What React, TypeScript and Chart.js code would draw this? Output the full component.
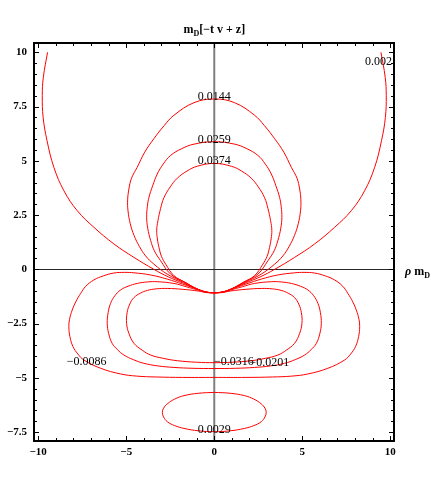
import React, { useEffect, useRef } from 'react';
import { Chart, registerables } from 'chart.js';

Chart.register(...registerables);

type P = [number, number];

// Axis ticks
const xTicks = [-10, -5, 0, 5, 10];
const yTicks = [-7.5, -5, -2.5, 0, 2.5, 5, 7.5, 10];
const xMinor = [-10, -9, -8, -7, -6, -5, -4, -3, -2, -1, 0, 1, 2, 3, 4, 5, 6, 7, 8, 9, 10];
const yMinor = [-7.5, -7, -6.5, -6, -5.5, -5, -4.5, -4, -3.5, -3, -2.5, -2, -1.5, -1, -0.5, 0, 0.5, 1, 1.5, 2, 2.5, 3, 3.5, 4, 4.5, 5, 5.5, 6, 6.5, 7, 7.5, 8, 8.5, 9, 9.5, 10];

// Contour curves
const c0002: P[] = [
  [-9.47, 10], [-9.71, 8.85], [-9.77, 8.0], [-9.72, 7.0], [-9.5, 5.93], [-9.11, 4.7], [-8.54, 3.62],
  [-7.78, 2.7], [-6.84, 1.94], [-5.7, 1.17], [-4.56, 0.55], [-3.43, 0.0], [-2.6, -0.35], [-1.75, -0.64],
  [-0.9, -0.93], [-0.45, -1.04], [0, -1.08],
  [0.45, -1.04], [0.9, -0.93], [1.75, -0.64], [2.6, -0.35], [3.43, 0.0], [4.56, 0.55], [5.7, 1.17],
  [6.84, 1.94], [7.78, 2.7], [8.54, 3.62], [9.11, 4.7], [9.5, 5.93], [9.72, 7.0], [9.77, 8.0],
  [9.71, 8.85], [9.47, 10],
];
const c0144: P[] = [
  [0, -1.08], [-0.45, -1.05], [-0.9, -0.93], [-1.75, -0.6], [-2.67, -0.22], [-3.43, 0.24], [-3.9, 0.62],
  [-4.25, 1.05], [-4.55, 1.55], [-4.77, 2.1], [-4.9, 2.7], [-4.92, 3.2], [-4.85, 3.7], [-4.7, 4.2],
  [-4.38, 4.7], [-3.95, 5.4], [-3.43, 6.02], [-2.85, 6.62], [-2.29, 7.1], [-1.15, 7.68], [0, 7.85],
  [1.15, 7.68], [2.29, 7.1], [2.85, 6.62], [3.43, 6.02], [3.95, 5.4], [4.38, 4.7], [4.7, 4.2],
  [4.85, 3.7], [4.92, 3.2], [4.9, 2.7], [4.77, 2.1], [4.55, 1.55], [4.25, 1.05], [3.9, 0.62],
  [3.43, 0.24], [2.67, -0.22], [1.75, -0.6], [0.9, -0.93], [0.45, -1.05], [0, -1.08],
];
const c0259: P[] = [
  [0, -1.08], [-0.45, -1.05], [-0.9, -0.93], [-1.7, -0.58], [-2.48, -0.22], [-3.05, 0.4], [-3.4, 0.85],
  [-3.61, 1.32], [-3.78, 1.9], [-3.84, 2.4], [-3.8, 2.9], [-3.71, 3.32], [-3.5, 3.85], [-3.24, 4.39],
  [-2.9, 4.85], [-2.48, 5.25], [-1.85, 5.56], [-1.15, 5.77], [0, 5.88],
  [1.15, 5.77], [1.85, 5.56], [2.48, 5.25], [2.9, 4.85], [3.24, 4.39], [3.5, 3.85], [3.71, 3.32],
  [3.8, 2.9], [3.84, 2.4], [3.78, 1.9], [3.61, 1.32], [3.4, 0.85], [3.05, 0.4], [2.48, -0.22],
  [1.7, -0.58], [0.9, -0.93], [0.45, -1.05], [0, -1.08],
];
const c0374: P[] = [
  [0, -1.08], [-0.45, -1.05], [-0.9, -0.94], [-1.65, -0.6], [-2.29, -0.29], [-2.76, 0.24], [-3.0, 0.6],
  [-3.14, 1.01], [-3.23, 1.4], [-3.27, 1.8], [-3.2, 2.24], [-3.05, 2.8], [-2.86, 3.3], [-2.5, 3.8],
  [-2.1, 4.2], [-1.55, 4.53], [-0.97, 4.75], [0, 4.88],
  [0.97, 4.75], [1.55, 4.53], [2.1, 4.2], [2.5, 3.8], [2.86, 3.3], [3.05, 2.8], [3.2, 2.24],
  [3.27, 1.8], [3.23, 1.4], [3.14, 1.01], [3.0, 0.6], [2.76, 0.24], [2.29, -0.29], [1.65, -0.6],
  [0.9, -0.94], [0.45, -1.05], [0, -1.08],
];
const cm0086: P[] = [
  [0, -1.08], [-0.45, -1.05], [-0.9, -0.93], [-1.8, -0.68], [-2.67, -0.45], [-3.61, -0.26], [-4.56, -0.16],
  [-5.1, -0.14], [-5.7, -0.17], [-6.3, -0.3], [-6.84, -0.49], [-7.3, -0.78], [-7.59, -1.11], [-7.87, -1.5],
  [-8.07, -1.88], [-8.22, -2.3], [-8.26, -2.64], [-8.2, -3.1], [-8.03, -3.55], [-7.75, -3.9], [-7.4, -4.18],
  [-6.45, -4.56], [-5.32, -4.82], [-4.4, -4.92], [-3.3, -4.96], [-1.8, -4.98], [0, -4.98],
  [1.8, -4.98], [3.3, -4.96], [4.4, -4.92], [5.32, -4.82], [6.45, -4.56], [7.4, -4.18], [7.75, -3.9],
  [8.03, -3.55], [8.2, -3.1], [8.26, -2.64], [8.22, -2.3], [8.07, -1.88], [7.87, -1.5], [7.59, -1.11],
  [7.3, -0.78], [6.84, -0.49], [6.3, -0.3], [5.7, -0.17], [5.1, -0.14], [4.56, -0.16], [3.61, -0.26],
  [2.67, -0.45], [1.8, -0.68], [0.9, -0.93], [0.45, -1.05], [0, -1.08],
];
const cm0201: P[] = [
  [0, -1.08], [-0.45, -1.06], [-0.9, -0.96], [-1.6, -0.8], [-2.29, -0.65], [-3.24, -0.57], [-3.8, -0.58],
  [-4.38, -0.65], [-4.9, -0.78], [-5.32, -0.95], [-5.65, -1.22], [-5.89, -1.57], [-6.03, -2.0],
  [-6.08, -2.49], [-6.0, -2.95], [-5.8, -3.41], [-5.5, -3.7], [-5.13, -3.95], [-4.6, -4.16], [-4.0, -4.33],
  [-3.2, -4.45], [-2.29, -4.52], [-1.2, -4.56], [0, -4.57],
  [1.2, -4.56], [2.29, -4.52], [3.2, -4.45], [4.0, -4.33], [4.6, -4.16], [5.13, -3.95], [5.5, -3.7],
  [5.8, -3.41], [6.0, -2.95], [6.08, -2.49], [6.03, -2.0], [5.89, -1.57], [5.65, -1.22], [5.32, -0.95],
  [4.9, -0.78], [4.38, -0.65], [3.8, -0.58], [3.24, -0.57], [2.29, -0.65], [1.6, -0.8], [0.9, -0.96],
  [0.45, -1.06], [0, -1.08],
];
const cm0316: P[] = [
  [0, -1.08], [-0.45, -1.07], [-0.9, -1.0], [-1.8, -0.92], [-2.67, -0.88], [-3.3, -0.9], [-3.8, -0.97],
  [-4.2, -1.1], [-4.56, -1.3], [-4.8, -1.6], [-4.95, -2.0], [-4.98, -2.49], [-4.85, -2.95], [-4.56, -3.41],
  [-4.1, -3.72], [-3.61, -3.95], [-2.9, -4.1], [-2.1, -4.21], [-1.0, -4.28], [0, -4.3],
  [1.0, -4.28], [2.1, -4.21], [2.9, -4.1], [3.61, -3.95], [4.1, -3.72], [4.56, -3.41], [4.85, -2.95],
  [4.98, -2.49], [4.95, -2.0], [4.8, -1.6], [4.56, -1.3], [4.2, -1.1], [3.8, -0.97], [3.3, -0.9],
  [2.67, -0.88], [1.8, -0.92], [0.9, -1.0], [0.45, -1.07], [0, -1.08],
];
const c0029: P[] = [
  [0, -5.67], [-0.9, -5.71], [-1.72, -5.82], [-2.25, -5.98], [-2.67, -6.2], [-2.88, -6.4], [-2.95, -6.59],
  [-2.88, -6.8], [-2.67, -7.02], [-2.25, -7.2], [-1.72, -7.33], [-0.9, -7.44], [0, -7.48],
  [0.9, -7.44], [1.72, -7.33], [2.25, -7.2], [2.67, -7.02], [2.88, -6.8], [2.95, -6.59], [2.88, -6.4],
  [2.67, -6.2], [2.25, -5.98], [1.72, -5.82], [0.9, -5.71], [0, -5.67],
];

const curves: P[][] = [c0002, c0144, c0259, c0374, cm0086, cm0201, cm0316, c0029];

// Contour labels
const labelText = ['0.002', '0.0144', '0.0259', '0.0374', '\u22120.0086', '\u22120.0316', '\u22120.0201', '0.0029'];
const labelX = [9.33, 0, 0, 0, -7.25, 1.12, 3.13, 0];
const labelY = [9.57, 7.95, 5.99, 4.99, -4.26, -4.26, -4.33, -7.4];

const fmt = (v: number) => String(v).replace('-', '\u2212');

const SERIF = '"Liberation Serif", "DejaVu Serif", serif';

function drawRich(ctx: CanvasRenderingContext2D, parts: { t: string; font: string; dy?: number }[], x: number, y: number, align: 'center' | 'left') {
  let total = 0;
  parts.forEach((p) => { ctx.font = p.font; total += ctx.measureText(p.t).width; });
  let cx = align === 'center' ? x - total / 2 : x;
  ctx.textAlign = 'left';
  ctx.textBaseline = 'alphabetic';
  parts.forEach((p) => {
    ctx.font = p.font;
    ctx.fillText(p.t, cx, y + (p.dy || 0));
    cx += ctx.measureText(p.t).width;
  });
}

const framePlugin = {
  id: 'mmaFrame',
  beforeDatasetsDraw(chart: any) {
    const { ctx, chartArea: a, scales } = chart;
    const xs = scales.x, ys = scales.y;
    ctx.save();
    const x0 = xs.getPixelForValue(0);
    ctx.strokeStyle = 'rgb(128,128,128)';
    ctx.lineWidth = 2;
    ctx.beginPath(); ctx.moveTo(x0, a.top); ctx.lineTo(x0, a.bottom); ctx.stroke();
    const y0 = Math.round(ys.getPixelForValue(0)) + 0.5;
    ctx.strokeStyle = 'rgb(40,40,40)';
    ctx.lineWidth = 1;
    ctx.beginPath(); ctx.moveTo(a.left, y0); ctx.lineTo(a.right, y0); ctx.stroke();
    ctx.restore();
  },
  afterDatasetsDraw(chart: any) {
    const { ctx, chartArea: a, scales } = chart;
    const xs = scales.x, ys = scales.y;
    ctx.save();
    ctx.beginPath(); ctx.rect(a.left, a.top, a.right - a.left, a.bottom - a.top); ctx.clip();
    ctx.fillStyle = '#000';
    ctx.font = `12px ${SERIF}`;
    ctx.textAlign = 'center';
    ctx.textBaseline = 'middle';
    labelText.forEach((t, i) => ctx.fillText(t, xs.getPixelForValue(labelX[i]), ys.getPixelForValue(labelY[i])));
    ctx.restore();

    ctx.save();
    ctx.strokeStyle = '#000';
    ctx.lineWidth = 1;
    ctx.beginPath();
    xMinor.forEach((v) => {
      const px = Math.round(xs.getPixelForValue(v)) + 0.5;
      const len = xTicks.includes(v) ? 5 : 3;
      ctx.moveTo(px, a.bottom); ctx.lineTo(px, a.bottom - len);
      ctx.moveTo(px, a.top); ctx.lineTo(px, a.top + len);
    });
    yMinor.forEach((v) => {
      const py = Math.round(ys.getPixelForValue(v)) + 0.5;
      const len = yTicks.includes(v) ? 5 : 3;
      ctx.moveTo(a.left, py); ctx.lineTo(a.left + len, py);
      ctx.moveTo(a.right, py); ctx.lineTo(a.right - len, py);
    });
    ctx.stroke();
    ctx.lineWidth = 2;
    ctx.strokeRect(a.left, a.top, a.right - a.left, a.bottom - a.top);

    ctx.fillStyle = '#000';
    drawRich(ctx, [
      { t: 'm', font: `bold 12px ${SERIF}` },
      { t: 'D', font: `bold 8px ${SERIF}`, dy: 3 },
      { t: '[\u2212t v + z]', font: `bold 12px ${SERIF}` },
    ], xs.getPixelForValue(0), 33, 'center');
    drawRich(ctx, [
      { t: '\u03c1 ', font: `bold italic 12px ${SERIF}` },
      { t: 'm', font: `bold 12px ${SERIF}` },
      { t: 'D', font: `bold 8px ${SERIF}`, dy: 3 },
    ], a.right + 11, ys.getPixelForValue(0) + 6, 'left');
    ctx.restore();
  },
};

export default function App() {
  const ref = useRef<HTMLCanvasElement>(null);
  useEffect(() => {
    const chart = new Chart(ref.current as HTMLCanvasElement, {
      type: 'scatter',
      data: {
        datasets: curves.map((c) => ({
          data: c.map(([x, y]) => ({ x, y })),
          showLine: true,
          borderColor: 'rgb(255,0,0)',
          borderWidth: 1,
          pointRadius: 0,
          tension: 0.4,
          fill: false,
        })),
      },
      options: {
        animation: false,
        responsive: false,
        devicePixelRatio: 1,
        layout: { padding: { top: 43, right: 42, left: 0, bottom: 0 } },
        plugins: { legend: { display: false }, tooltip: { enabled: false }, title: { display: false } },
        scales: {
          x: {
            type: 'linear',
            min: -10.24,
            max: 10.21,
            afterBuildTicks: (s: any) => { s.ticks = xTicks.map((v) => ({ value: v })); },
            afterFit: (s: any) => { s.height = 39; },
            grid: { display: false, drawTicks: false },
            border: { display: false },
            ticks: {
              color: '#000',
              padding: 5,
              maxRotation: 0,
              autoSkip: false,
              font: { family: SERIF, size: 11, weight: 'bold' },
              callback: (v: any) => fmt(Number(v)),
            },
          },
          y: {
            type: 'linear',
            min: -7.91,
            max: 10.43,
            afterBuildTicks: (s: any) => { s.ticks = yTicks.map((v) => ({ value: v })); },
            afterFit: (s: any) => { s.width = 34; },
            grid: { display: false, drawTicks: false },
            border: { display: false },
            ticks: {
              color: '#000',
              padding: 7,
              autoSkip: false,
              font: { family: SERIF, size: 11, weight: 'bold' },
              callback: (v: any) => fmt(Number(v)),
            },
          },
        },
      } as any,
      plugins: [framePlugin],
    });
    return () => chart.destroy();
  }, []);
  return (
    <div style={{ position: 'fixed', left: 0, top: 0, width: 436, height: 480, background: '#fff' }}>
      <canvas ref={ref} width={436} height={480} style={{ display: 'block', width: 436, height: 480 }} />
    </div>
  );
}
